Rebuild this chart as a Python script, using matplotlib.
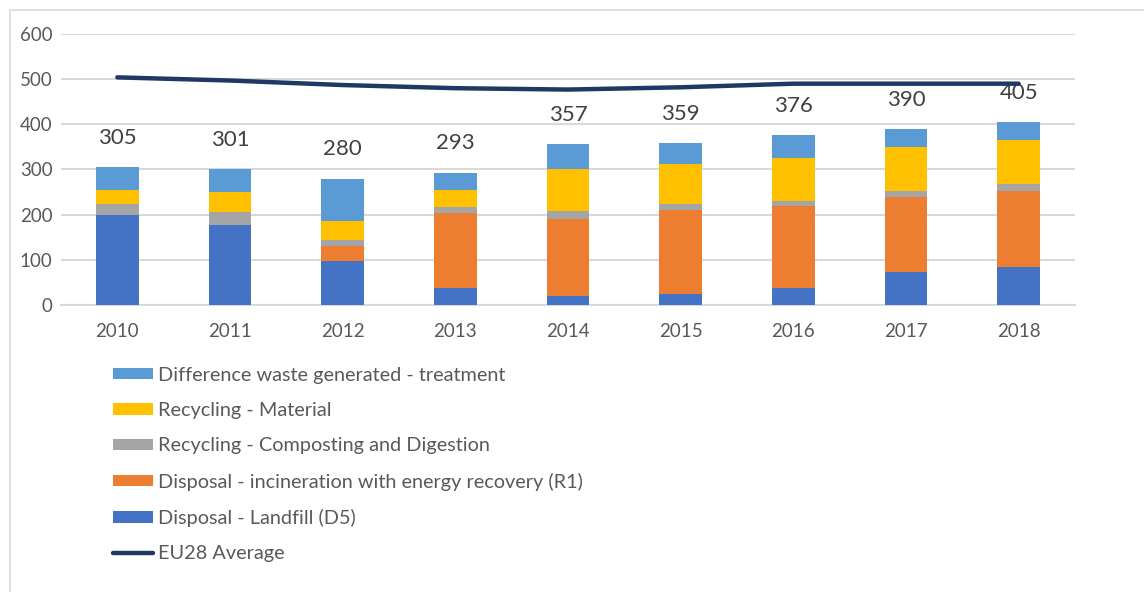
import matplotlib.pyplot as plt
from matplotlib.lines import Line2D
import numpy as np

plt.rcParams['font.family'] = ['Lato', 'DejaVu Sans']

years = ['2010', '2011', '2012', '2013', '2014', '2015', '2016', '2017', '2018']
landfill = [200, 178, 97, 38, 21, 24, 38, 74, 85]
incineration = [0, 0, 34, 165, 170, 187, 182, 165, 167]
composting = [24, 28, 13, 14, 18, 12, 11, 13, 16]
material = [30, 44, 42, 37, 93, 89, 95, 98, 98]
difference = [51, 51, 94, 39, 55, 47, 50, 40, 39]
totals = [305, 301, 280, 293, 357, 359, 376, 390, 405]
eu28 = [504, 497, 487, 480, 477, 482, 490, 490, 490]

series = [
    ('Disposal - Landfill (D5)', landfill, '#4472C4'),
    ('Disposal - incineration with energy recovery (R1)', incineration, '#ED7D31'),
    ('Recycling - Composting and Digestion', composting, '#A5A5A5'),
    ('Recycling - Material', material, '#FFC000'),
    ('Difference waste generated - treatment', difference, '#5B9BD5'),
]

fig = plt.figure(figsize=(11.44, 5.92), dpi=100)
ax = fig.add_axes([61/1144, 1 - 305/592, 1014/1144, 271/592])

x = np.arange(len(years))
bottom = np.zeros(len(years))
handles = []
for name, vals, col in series:
    b = ax.bar(x, vals, 0.38, bottom=bottom, color=col, label=name, zorder=3)
    bottom += np.array(vals)
    handles.append(b)

line, = ax.plot(x, eu28, color='#1F3864', lw=3.2, solid_capstyle='round',
                label='EU28 Average', zorder=4)

# total labels sit about 65 units above the bar
for xi, t in zip(x, totals):
    ax.annotate(str(t), (xi, t), xytext=(0, 21), textcoords='offset points',
                ha='center', va='center', fontsize=16, color='#404040')

ax.set_xlim(-0.5, 8.5)
ax.set_ylim(0, 600)
ax.set_yticks(range(0, 601, 100))
ax.set_xticks(x)
ax.set_xticklabels(years)
ax.yaxis.grid(True, color='#D9D9D9', lw=1.5, zorder=0)
for s in ['top', 'right', 'left']:
    ax.spines[s].set_visible(False)
ax.spines['bottom'].set_color('#D9D9D9')
ax.spines['bottom'].set_linewidth(1.5)
ax.tick_params(axis='both', length=0, labelsize=13.5, labelcolor='#595959')
ax.tick_params(axis='x', pad=13)
ax.tick_params(axis='y', pad=6)

leg = fig.legend(handles[::-1] + [line],
                 [h.get_label() for h in handles[::-1]] + ['EU28 Average'],
                 loc='upper left', bbox_to_anchor=(95/1144, 1 - 349/592),
                 frameon=False, fontsize=14.3, labelcolor='#595959',
                 handlelength=2.0, handleheight=0.5, handletextpad=0.25,
                 labelspacing=0.92)

# outer frame
fig.add_artist(Line2D([10/1144, 1], [1 - 10/592, 1 - 10/592], color='#D9D9D9', lw=1.2))
fig.add_artist(Line2D([10/1144, 10/1144], [0, 1 - 10/592], color='#D9D9D9', lw=1.2))

fig.savefig('out.png', dpi=100)
